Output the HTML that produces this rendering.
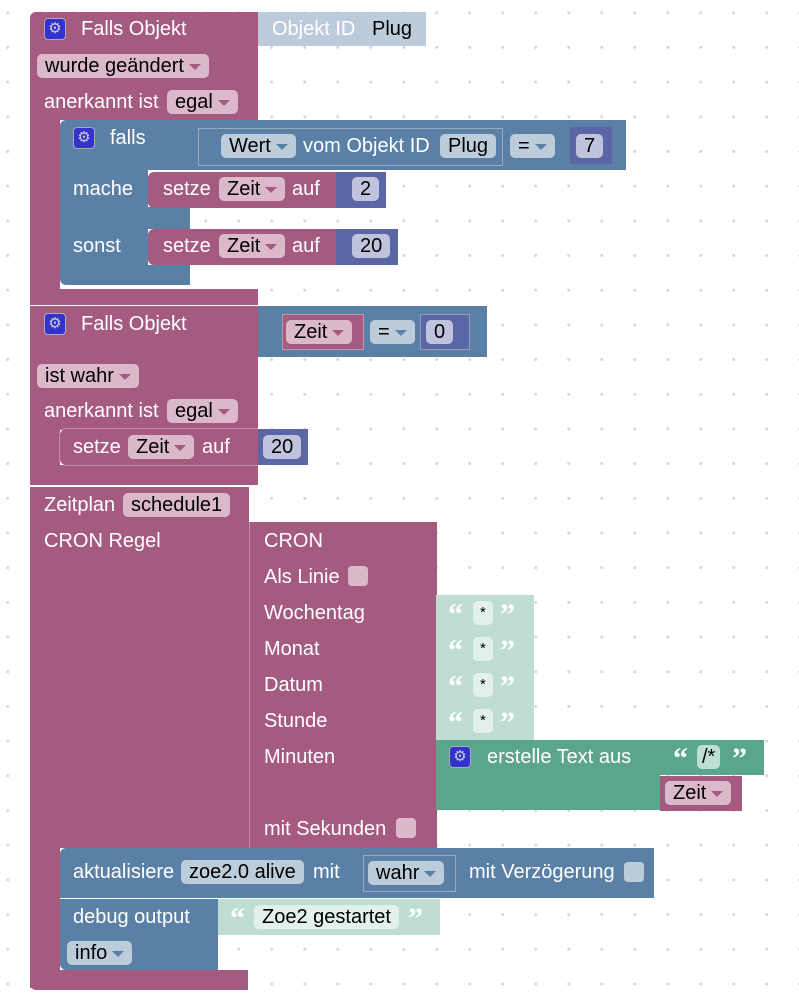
<!DOCTYPE html>
<html><head><meta charset="utf-8"><style>
html,body{margin:0;padding:0}
body{width:799px;height:1007px;position:relative;overflow:hidden;background:#fff;font-family:"Liberation Sans",sans-serif;font-size:20px}
.grid{position:absolute;inset:0;background-image:radial-gradient(circle,#d2d2d2 1.2px,transparent 1.6px);background-size:33px 34.7px;background-position:-8.8px -4.6px}
.b{position:absolute}
.m{background:#a55b80}.bl{background:#5b80a5}.lb{background:#bccbdc}.n{background:#5b67a5}
.lg{background:#bfddd2}.g{background:#5ba58c}
.t{position:absolute;color:#fff;white-space:nowrap;line-height:22px}
.d{position:absolute;border-radius:5px;color:#000;white-space:nowrap;line-height:24px;height:24px;padding:0 8px;box-sizing:border-box;margin-top:-1px}
.dm{background:#dbb9cb}.db{background:#bdccdb}.dn{background:#bfc3dd}.dg{background:#e3f1ec}.dgg{background:#bfdfd3}
.arr{display:inline-block;width:0;height:0;border-left:6px solid transparent;border-right:6px solid transparent;border-top:6px solid;margin-left:5px;vertical-align:middle}
.am{border-top-color:#a55b80}.ab{border-top-color:#5b80a5}
.gear{position:absolute;width:22px;height:22px;background:#3333cc;border-radius:4px;border:1px solid #aab;box-sizing:border-box;color:#ccd;font-size:15px;line-height:20px;text-align:center}
.q{position:absolute;color:#fff;font-weight:bold;font-size:30px;line-height:30px;font-family:"Liberation Serif",serif}
.cb{position:absolute;width:20px;height:20px;border-radius:4px}
.out{position:absolute;border:1px solid rgba(255,255,255,.35);box-sizing:border-box}
</style></head><body>
<div class="grid"></div>

<!-- Block 1 -->
<div class="b m" style="left:30px;top:12px;width:228px;height:108px;border-radius:6px 0 0 0"></div>
<div class="b m" style="left:30px;top:120px;width:30px;height:185px"></div>
<div class="b m" style="left:30px;top:289px;width:228px;height:16px"></div>
<div class="b lb" style="left:258px;top:12px;width:168px;height:34px"></div>
<div class="gear" style="left:44px;top:18px">⚙</div>
<div class="t" style="left:81px;top:18px">Falls Objekt</div>
<div class="t" style="left:272px;top:18px">Objekt ID</div>
<div class="d db" style="left:364px;top:18px">Plug</div>
<div class="d dm" style="left:37px;top:55px">wurde geändert<span class="arr am"></span></div>
<div class="t" style="left:44px;top:91px">anerkannt ist</div>
<div class="d dm" style="left:167px;top:91px">egal<span class="arr am"></span></div>

<!-- falls block -->
<div class="b bl" style="left:60px;top:120px;width:566px;height:50px;border-radius:6px 0 0 0"></div>
<div class="b bl" style="left:60px;top:170px;width:88px;height:96px"></div>
<div class="b bl" style="left:60px;top:207px;width:130px;height:22px"></div>
<div class="b bl" style="left:60px;top:265px;width:130px;height:20px;border-radius:0 0 0 6px"></div>
<div class="out" style="left:198px;top:128px;width:305px;height:38px"></div>
<div class="gear" style="left:73px;top:127px">⚙</div>
<div class="t" style="left:110px;top:127px">falls</div>
<div class="d db" style="left:221px;top:135px">Wert<span class="arr ab"></span></div>
<div class="t" style="left:303px;top:135px">vom Objekt ID</div>
<div class="d db" style="left:440px;top:135px">Plug</div>
<div class="d db" style="left:510px;top:135px">=<span class="arr ab"></span></div>
<div class="b n" style="left:570px;top:127px;width:42px;height:37px"></div>
<div class="d dn" style="left:576px;top:135px">7</div>
<div class="t" style="left:73px;top:178px">mache</div>
<div class="t" style="left:73px;top:235px">sonst</div>

<div class="b m" style="left:148px;top:172px;width:188px;height:36px;border-radius:6px 0 0 6px"></div>
<div class="b n" style="left:336px;top:172px;width:50px;height:36px"></div>
<div class="t" style="left:163px;top:178px">setze</div>
<div class="d dm" style="left:219px;top:178px">Zeit<span class="arr am"></span></div>
<div class="t" style="left:292px;top:178px">auf</div>
<div class="d dn" style="left:352px;top:178px">2</div>

<div class="b m" style="left:148px;top:229px;width:188px;height:36px;border-radius:6px 0 0 6px"></div>
<div class="b n" style="left:336px;top:229px;width:62px;height:36px"></div>
<div class="t" style="left:163px;top:235px">setze</div>
<div class="d dm" style="left:219px;top:235px">Zeit<span class="arr am"></span></div>
<div class="t" style="left:292px;top:235px">auf</div>
<div class="d dn" style="left:352px;top:235px">20</div>

<!-- Block 2 -->
<div class="b m" style="left:30px;top:306px;width:228px;height:124px"></div>
<div class="b m" style="left:30px;top:430px;width:30px;height:55px"></div>
<div class="b m" style="left:30px;top:465px;width:228px;height:20px"></div>
<div class="b bl" style="left:258px;top:306px;width:229px;height:51px"></div>
<div class="b m out" style="left:282px;top:314px;width:82px;height:36px"></div>
<div class="b n out" style="left:420px;top:314px;width:50px;height:36px"></div>
<div class="gear" style="left:44px;top:313px">⚙</div>
<div class="t" style="left:81px;top:313px">Falls Objekt</div>
<div class="d dm" style="left:286px;top:321px">Zeit<span class="arr am"></span></div>
<div class="d db" style="left:370px;top:321px">=<span class="arr ab"></span></div>
<div class="d dn" style="left:426px;top:321px">0</div>
<div class="d dm" style="left:37px;top:365px">ist wahr<span class="arr am"></span></div>
<div class="t" style="left:44px;top:400px">anerkannt ist</div>
<div class="d dm" style="left:167px;top:400px">egal<span class="arr am"></span></div>
<div class="b m" style="left:60px;top:429px;width:198px;height:36px;border-radius:6px 0 0 6px;box-shadow:0 0 0 1px rgba(255,255,255,.3)"></div>
<div class="b n" style="left:258px;top:429px;width:50px;height:36px"></div>
<div class="t" style="left:73px;top:436px">setze</div>
<div class="d dm" style="left:128px;top:436px">Zeit<span class="arr am"></span></div>
<div class="t" style="left:202px;top:436px">auf</div>
<div class="d dn" style="left:263px;top:436px">20</div>

<!-- Block 3 -->
<div class="b m" style="left:30px;top:487px;width:219px;height:361px"></div>
<div class="b m" style="left:30px;top:848px;width:30px;height:140px"></div>
<div class="b m" style="left:30px;top:970px;width:218px;height:20px;border-radius:0 0 0 6px"></div>
<div class="b m" style="left:249px;top:522px;width:187px;height:326px;border-left:1px solid #c98aa9"></div>
<div class="t" style="left:44px;top:494px">Zeitplan</div>
<div class="d dm" style="left:123px;top:494px">schedule1</div>
<div class="t" style="left:44px;top:530px">CRON Regel</div>
<div class="t" style="left:264px;top:530px">CRON</div>
<div class="t" style="left:264px;top:566px">Als Linie</div>
<div class="cb dm" style="left:348px;top:566px"></div>
<div class="t" style="left:264px;top:602px">Wochentag</div>
<div class="t" style="left:264px;top:638px">Monat</div>
<div class="t" style="left:264px;top:674px">Datum</div>
<div class="t" style="left:264px;top:710px">Stunde</div>
<div class="t" style="left:264px;top:746px">Minuten</div>
<div class="t" style="left:264px;top:818px">mit Sekunden</div>
<div class="cb dm" style="left:396px;top:818px"></div>

<div class="b lg" style="left:436px;top:595px;width:98px;height:145px"></div>
<div class="q" style="left:448px;top:600px">“</div><div class="d dg" style="left:473px;top:602px;padding:0 7px;font-size:15px">*</div><div class="q" style="left:500px;top:600px">”</div>
<div class="q" style="left:448px;top:636px">“</div><div class="d dg" style="left:473px;top:638px;padding:0 7px;font-size:15px">*</div><div class="q" style="left:500px;top:636px">”</div>
<div class="q" style="left:448px;top:672px">“</div><div class="d dg" style="left:473px;top:674px;padding:0 7px;font-size:15px">*</div><div class="q" style="left:500px;top:672px">”</div>
<div class="q" style="left:448px;top:708px">“</div><div class="d dg" style="left:473px;top:710px;padding:0 7px;font-size:15px">*</div><div class="q" style="left:500px;top:708px">”</div>

<div class="b g" style="left:436px;top:740px;width:224px;height:70px"></div>
<div class="b g" style="left:660px;top:740px;width:104px;height:35px"></div>
<div class="gear" style="left:449px;top:746px">⚙</div>
<div class="t" style="left:487px;top:746px">erstelle Text aus</div>
<div class="q" style="left:673px;top:744px">“</div><div class="d dgg" style="left:697px;top:746px;padding:0 5px">/*</div><div class="q" style="left:732px;top:744px">”</div>
<div class="b m" style="left:660px;top:776px;width:82px;height:35px"></div>
<div class="d dm" style="left:665px;top:782px">Zeit<span class="arr am"></span></div>

<div class="b bl" style="left:60px;top:848px;width:594px;height:50px;border-radius:6px 0 0 0"></div>
<div class="t" style="left:73px;top:861px">aktualisiere</div>
<div class="d db" style="left:181px;top:861px">zoe2.0 alive</div>
<div class="t" style="left:313px;top:861px">mit</div>
<div class="out" style="left:363px;top:855px;width:93px;height:37px"></div>
<div class="d db" style="left:368px;top:862px">wahr<span class="arr ab"></span></div>
<div class="t" style="left:469px;top:861px">mit Verzögerung</div>
<div class="cb db" style="left:624px;top:862px"></div>

<div class="b bl" style="left:60px;top:899px;width:158px;height:71px;border-radius:0 0 0 6px"></div>
<div class="b lg" style="left:218px;top:899px;width:222px;height:36px"></div>
<div class="t" style="left:73px;top:906px">debug output</div>
<div class="q" style="left:230px;top:904px">“</div><div class="d dg" style="left:254px;top:906px">Zoe2 gestartet</div><div class="q" style="left:408px;top:904px">”</div>
<div class="d db" style="left:67px;top:942px">info<span class="arr ab"></span></div>
</body></html>
